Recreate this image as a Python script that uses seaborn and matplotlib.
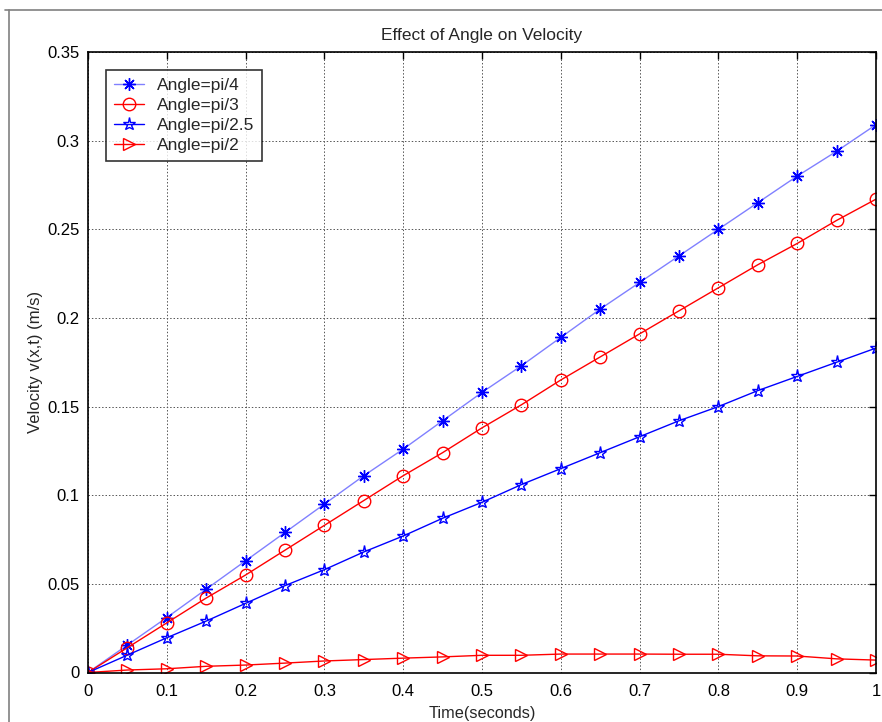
import numpy as np
import pandas as pd
import matplotlib
matplotlib.use("Agg")
import matplotlib.pyplot as plt
from matplotlib.lines import Line2D
import seaborn as sns

time_s = [0.0, 0.05, 0.1, 0.15, 0.2, 0.25, 0.3, 0.35, 0.4, 0.45, 0.5,
          0.55, 0.6, 0.65, 0.7, 0.75, 0.8, 0.85, 0.9, 0.95, 1.0]
v_pi4 = [0.0, 0.0155, 0.031, 0.047, 0.063, 0.079, 0.095, 0.111, 0.126, 0.142, 0.158,
         0.173, 0.189, 0.205, 0.220, 0.235, 0.250, 0.265, 0.280, 0.294, 0.309]
v_pi3 = [0.0, 0.014, 0.028, 0.042, 0.055, 0.069, 0.083, 0.097, 0.111, 0.124, 0.138,
         0.151, 0.165, 0.178, 0.191, 0.204, 0.217, 0.230, 0.242, 0.255, 0.267]
v_pi25 = [0.0, 0.0098, 0.0196, 0.029, 0.039, 0.049, 0.058, 0.068, 0.077, 0.087, 0.096,
          0.106, 0.115, 0.124, 0.133, 0.142, 0.150, 0.159, 0.167, 0.175, 0.183]
v_pi2 = [0.0, 0.0014, 0.0021, 0.0035, 0.0042, 0.0053, 0.0065, 0.0073, 0.0081, 0.0088, 0.0097,
         0.0097, 0.0104, 0.0104, 0.0104, 0.0103, 0.0103, 0.0094, 0.0093, 0.0077, 0.0070]
labels = ["Angle=pi/4", "Angle=pi/3", "Angle=pi/2.5", "Angle=pi/2"]
x_ticks = [0, 0.1, 0.2, 0.3, 0.4, 0.5, 0.6, 0.7, 0.8, 0.9, 1]
x_ticklabels = ["0", "0.1", "0.2", "0.3", "0.4", "0.5", "0.6", "0.7", "0.8", "0.9", "1"]
y_ticks = [0, 0.05, 0.1, 0.15, 0.2, 0.25, 0.3, 0.35]
y_ticklabels = ["0", "0.05", "0.1", "0.15", "0.2", "0.25", "0.3", "0.35"]

sns.set_style("white")
plt.rcParams['font.family'] = ['Liberation Sans', 'DejaVu Sans']

fig = plt.figure(figsize=(8.82, 7.22), dpi=100)
ax = fig.add_axes([88/882, (722-672.5)/722, (876-88)/882, (672.5-52)/722])

styles = [
    dict(color="#8080ff", marker=(8, 2, 0), mec="#0000ff", mfc="none", ms=9, mew=1.0, lw=1.0),
    dict(color="#ff0000", marker="o", mec="#ff0000", mfc="none", ms=9, mew=1.0, lw=1.0),
    dict(color="#0000ff", marker="*", mec="#0000ff", mfc="none", ms=9.5, mew=1.0, lw=1.0),
    dict(color="#ff0000", marker=">", mec="#ff0000", mfc="none", ms=9, mew=1.0, lw=1.0),
]
series = [v_pi4, v_pi3, v_pi25, v_pi2]
for vals, lab, st in zip(series, labels, styles):
    df = pd.DataFrame({"t": time_s, "v": vals})
    sns.lineplot(data=df, x="t", y="v", ax=ax, label=lab, **st)

ax.set_xlim(0, 1)
ax.set_ylim(0, 0.35)
ax.set_xticks(x_ticks)
ax.set_xticklabels(x_ticklabels)
ax.set_yticks(y_ticks)
ax.set_yticklabels(y_ticklabels)
ax.tick_params(direction="in", length=5, width=1, top=True, right=True,
               labelsize=12, colors="black")
ax.tick_params(axis="x", pad=8)
ax.tick_params(axis="y", pad=6)
ax.grid(True, color="#555555", linestyle=(0, (1.5, 2)), linewidth=0.7)
for s in ax.spines.values():
    s.set_visible(True)
    s.set_color("black")
    s.set_linewidth(1.2)

ax.set_title("Effect of Angle on Velocity", fontsize=12.5, pad=9)
ax.set_xlabel("Time(seconds)", fontsize=11.7, labelpad=5)
ax.set_ylabel("Velocity v(x,t) (m/s)", fontsize=12, labelpad=3)

leg = ax.legend(loc="upper left", bbox_to_anchor=(0.0228, 0.9705), fontsize=12.5,
                frameon=True, fancybox=False, borderaxespad=0, handlelength=1.75,
                handletextpad=0.75, borderpad=0.45, labelspacing=0.27)
leg.get_frame().set_edgecolor("black")
leg.get_frame().set_linewidth(1.2)

fig.add_artist(Line2D([9/882, 9/882], [0, 712/722], color="#808080", lw=1.2))
fig.add_artist(Line2D([5/882, 1], [712/722, 712/722], color="#808080", lw=1.2))

fig.savefig("out.png", dpi=100)
